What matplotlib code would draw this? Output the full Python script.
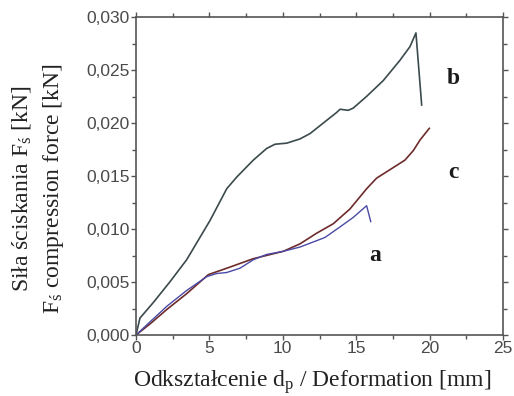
from matplotlib import pyplot as plt
from matplotlib.ticker import MultipleLocator
import numpy as np

plt.rcParams['mathtext.fontset'] = 'custom'
plt.rcParams['mathtext.rm'] = 'Liberation Serif'
plt.rcParams['mathtext.it'] = 'Liberation Serif'

# curve a (blue)
a_x = [0, 1.0, 2.09, 3.45, 4.81, 5.49, 6.18, 7.08, 7.99, 8.9, 10.04, 11.17, 12.87, 13.9, 14.8, 15.71, 15.99]
a_y = [0, 0.0013, 0.0027, 0.0042, 0.0055, 0.0058, 0.0059, 0.0063, 0.0071, 0.0076, 0.0079, 0.0083,
       0.0092, 0.0102, 0.0111, 0.0122, 0.0107]

# curve b (dark slate)
b_x = [0, 0.27, 1.2, 2.3, 3.45, 5.04, 6.18, 6.86, 7.99, 8.9, 9.47, 10.27, 11.17, 11.85,
       12.76, 13.67, 13.9, 14.45, 14.79, 15.7, 16.84, 17.97, 18.66, 19.07, 19.46]
b_y = [0, 0.0016, 0.0031, 0.0050, 0.0071, 0.0108, 0.0138, 0.0149, 0.0165, 0.0176, 0.0180,
       0.0181, 0.0185, 0.0190, 0.0200, 0.0210, 0.0213, 0.0212, 0.0214, 0.0225, 0.0240,
       0.0259, 0.0272, 0.0285, 0.0217]

# curve c (brown)
c_x = [0, 1.0, 2.09, 3.45, 4.93, 6.18, 7.99, 10.04, 11.17, 12.3, 13.44, 14.58, 15.71, 16.39,
       17.3, 18.32, 18.89, 19.35, 19.98]
c_y = [0, 0.0011, 0.0024, 0.0039, 0.0057, 0.0063, 0.0072, 0.0079, 0.0086, 0.0096, 0.0105, 0.0119,
       0.0138, 0.0148, 0.0156, 0.0165, 0.0174, 0.0184, 0.0195]

x_ticks = [0, 5, 10, 15, 20, 25]
y_ticks = [0.0, 0.005, 0.010, 0.015, 0.020, 0.025, 0.030]
y_labels = ['0,000', '0,005', '0,010', '0,015', '0,020', '0,025', '0,030']

fig = plt.figure(figsize=(5.14, 3.96), dpi=100)
ax = fig.add_axes([0.2646, 0.154, 0.714, 0.803])

ax.plot(b_x, b_y, color='#3b4a4c', lw=1.2)
ax.plot(c_x, c_y, color='#6e2b2b', lw=1.2)
ax.plot(a_x, a_y, color='#4a4aa6', lw=1.0)

ax.set_xlim(0, 25)
ax.set_ylim(0, 0.030)
ax.set_xticks(x_ticks)
ax.set_xticklabels([str(t) for t in x_ticks])
ax.set_yticks(y_ticks)
ax.set_yticklabels(y_labels)
ax.xaxis.set_minor_locator(MultipleLocator(2.5))
ax.yaxis.set_minor_locator(MultipleLocator(0.0025))

grey = '#555555'
for s in ax.spines.values():
    s.set_color(grey)
    s.set_linewidth(1.2)
ax.tick_params(which='both', direction='out', color=grey, top=True, right=True,
               labeltop=False, labelright=False)
ax.tick_params(which='major', length=3.5, width=1.0, labelsize=12.5, labelcolor='#4a4a4a', pad=1)
ax.tick_params(which='minor', length=3, width=1.0)
for lab in ax.get_xticklabels() + ax.get_yticklabels():
    lab.set_family('Liberation Sans')

ax.text(21.6, 0.0242, 'b', fontsize=17, fontweight='bold', family='Liberation Serif',
        ha='center', va='center', color='#1a1a1a')
ax.text(21.6, 0.0153, 'c', fontsize=17, fontweight='bold', family='Liberation Serif',
        ha='center', va='center', color='#1a1a1a')
ax.text(16.3, 0.0075, 'a', fontsize=17, fontweight='bold', family='Liberation Serif',
        ha='center', va='center', color='#1a1a1a')

fig.text(0.608, 0.035, r'Odkształcenie d$_\mathregular{p}$ / Deformation [mm]',
         fontsize=17, family='Liberation Serif', ha='center', va='center', color='#222222')
fig.text(0.042, 0.523, r'Siła ściskania F$_\mathregular{ś}$ [kN]',
         fontsize=17, family='Liberation Serif', ha='center', va='center',
         rotation=90, color='#222222')
fig.text(0.104, 0.523, r'F$_\mathregular{ś}$ compression force [kN]',
         fontsize=17, family='Liberation Serif', ha='center', va='center',
         rotation=90, color='#222222')

plt.savefig('out.png', dpi=100)
